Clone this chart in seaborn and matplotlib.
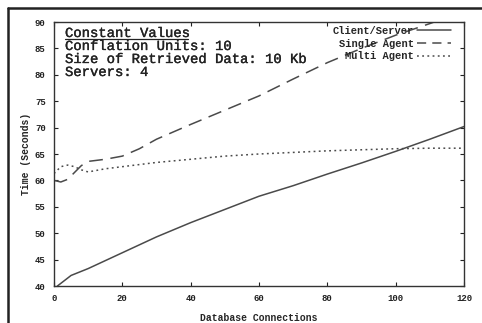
import numpy as np
import pandas as pd
import matplotlib
matplotlib.use("Agg")
import matplotlib.pyplot as plt
import matplotlib.patheffects as pe
import seaborn as sns
from matplotlib.lines import Line2D

# ---- data ----
cs_x = [1, 5, 10, 20, 30, 40, 50, 60, 70, 80, 90, 100, 110, 120]
cs_y = [40, 42, 43.3, 46.3, 49.3, 52, 54.5, 57, 59, 61.2, 63.3, 65.5, 67.8, 70.2]

sa_x = [0, 2, 4, 6, 8, 10, 15, 20, 25, 30, 40, 50, 60, 70, 80, 90, 100, 110, 120]
sa_y = [60, 59.7, 60.2, 61.5, 62.8, 63.6, 64, 64.6, 66, 67.8, 70.6, 73.3, 76,
        79.2, 82.3, 85, 87.5, 89.7, 92]

ma_x = [0, 2, 4, 6, 8, 10, 15, 20, 30, 40, 50, 60, 70, 80, 90, 100, 110, 120]
ma_y = [61.3, 62.6, 62.9, 62.6, 62.0, 61.6, 62.2, 62.6, 63.4, 64, 64.6, 65.0,
        65.3, 65.6, 65.8, 66, 66.1, 66.1]

series_names = ["Client/Server", "Single Agent", "Multi Agent"]
x_ticks = [0, 20, 40, 60, 80, 100, 120]
y_ticks = [40, 45, 50, 55, 60, 65, 70, 75, 80, 85, 90]
info_lines = ["Conflation Units: 10", "Size of Retrieved Data: 10 Kb", "Servers: 4"]
info_title = "Constant Values"

sns.set_style("ticks")
plt.rcParams["font.family"] = ["Liberation Mono", "DejaVu Sans Mono"]

fig = plt.figure(figsize=(4.82, 3.23), dpi=100)
ax = fig.add_axes([54 / 482, 1 - 286 / 323, (464 - 54) / 482, (286 - 22) / 323])

col = "#4a4a4a"
frames = [
    pd.DataFrame({"x": cs_x, "y": cs_y, "s": series_names[0]}),
    pd.DataFrame({"x": sa_x, "y": sa_y, "s": series_names[1]}),
    pd.DataFrame({"x": ma_x, "y": ma_y, "s": series_names[2]}),
]
styles = [None, (0, (9, 5)), (0, (1.2, 2.2))]
for df, dash in zip(frames, styles):
    sns.lineplot(data=df, x="x", y="y", ax=ax, legend=False, color=col, linewidth=1.1)
    ln = ax.lines[-1]
    if dash is not None:
        ln.set_linestyle(dash)

ax.set_xlim(0, 120)
ax.set_ylim(40, 90)
ax.set_xticks(x_ticks)
ax.set_yticks(y_ticks)
ax.tick_params(direction="in", length=3, width=0.8, top=True, right=True,
               labelsize=6.5, colors="#222222", pad=6)
for lab in ax.get_xticklabels() + ax.get_yticklabels():
    lab.set_fontweight("bold")
for sp in ax.spines.values():
    sp.set_color("#333333")
    sp.set_linewidth(1.0)

ax.set_xlabel("Database Connections", fontsize=7, fontweight="bold", labelpad=7)
ax.set_ylabel("Time (Seconds)", fontsize=7, fontweight="bold", labelpad=3)

# legend (text right-aligned, sample to the right)
handles = [Line2D([], [], color=col, lw=1.1, linestyle="-"),
           Line2D([], [], color=col, lw=1.1, linestyle=(0, (6, 4))),
           Line2D([], [], color=col, lw=1.1, linestyle=(0, (1.2, 2.2)))]
leg = ax.legend(handles, series_names, loc="upper right", frameon=False,
                markerfirst=False, handlelength=3.2, handletextpad=0.3,
                labelspacing=0.25, bbox_to_anchor=(0.99, 1.02),
                prop={"family": ["Liberation Mono"], "weight": "bold", "size": 7.5})

# constant-values block
fx = [pe.withStroke(linewidth=0.25, foreground="#222222")]
x0 = (65 - 54) / 410
ax.text(x0, (286 - 37) / 264, info_title, transform=ax.transAxes, fontsize=10,
        va="baseline", ha="left", color="#222222", path_effects=fx)
ax.plot([x0, (188 - 54) / 410], [(286 - 39) / 264] * 2, transform=ax.transAxes,
        color="#222222", lw=0.9, clip_on=False)
for i, t in enumerate(info_lines):
    ax.text(x0, (286 - 50 - 13 * i) / 264, t, transform=ax.transAxes, fontsize=10,
            va="baseline", ha="left", color="#222222", path_effects=fx)

# outer frame of the scan
fig.add_artist(Line2D([8 / 482, 1.0], [1 - 8 / 323, 1 - 8 / 323],
                      transform=fig.transFigure, color="#222222", lw=1.8))
fig.add_artist(Line2D([8 / 482, 8 / 482], [0, 1 - 8 / 323],
                      transform=fig.transFigure, color="#222222", lw=1.8))

fig.savefig("out.png", dpi=100)
